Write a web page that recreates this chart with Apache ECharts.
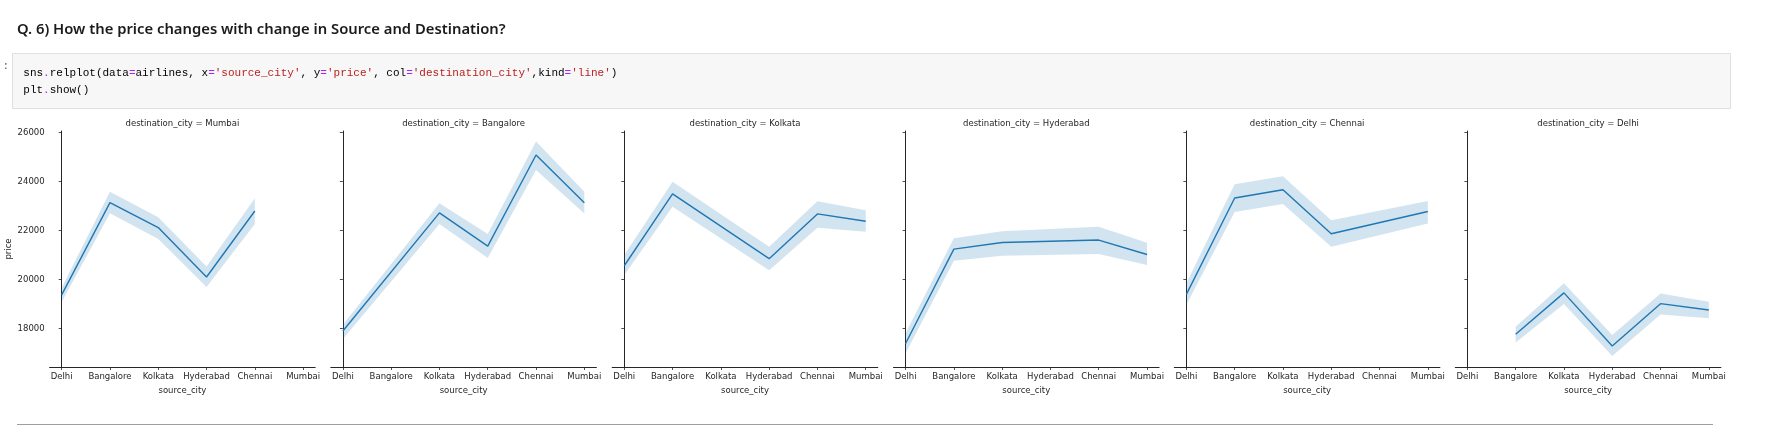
<!DOCTYPE html>
<html>
<head>
<meta charset="utf-8">
<script src="https://cdn.jsdelivr.net/npm/echarts@6/dist/echarts.min.js"></script>
<style>
html,body{margin:0;padding:0;background:#fff;}
#chart{width:1766px;height:447px;}
</style>
</head>
<body>
<div id="chart"></div>
<script>
// ---- data ----
const sourceCities = ['Delhi', 'Bangalore', 'Kolkata', 'Hyderabad', 'Chennai', 'Mumbai'];
const destinationCities = ['Mumbai', 'Bangalore', 'Kolkata', 'Hyderabad', 'Chennai', 'Delhi'];
const yTicks = [18000, 20000, 22000, 24000, 26000];

const meanToMumbai    = [19370, 23140, 22120, 20100, 22800, null];
const lowToMumbai     = [19080, 22710, 21650, 19690, 22270, null];
const highToMumbai    = [19660, 23590, 22540, 20530, 23320, null];

const meanToBangalore = [17890, null, 22720, 21360, 25090, 23140];
const lowToBangalore  = [17560, null, 22270, 20880, 24480, 22700];
const highToBangalore = [18150, null, 23120, 21860, 25640, 23590];

const meanToKolkata   = [20560, 23500, null, 20850, 22680, 22380];
const lowToKolkata    = [20180, 22970, null, 20380, 22110, 21950];
const highToKolkata   = [21000, 23990, null, 21340, 23200, 22830];

const meanToHyderabad = [17380, 21240, 21510, null, 21610, 21020];
const lowToHyderabad  = [16980, 20760, 20970, null, 21040, 20590];
const highToHyderabad = [17800, 21680, 21970, null, 22150, 21500];

const meanToChennai   = [19390, 23330, 23670, 21870, null, 22780];
const lowToChennai    = [18970, 22760, 23080, 21340, null, 22290];
const highToChennai   = [19840, 23890, 24220, 22420, null, 23210];

const meanToDelhi     = [null, 17760, 19450, 17280, 19010, 18750];
const lowToDelhi      = [null, 17420, 19000, 16870, 18570, 18410];
const highToDelhi     = [null, 18070, 19840, 17730, 19430, 19090];

const panelMeans = [meanToMumbai, meanToBangalore, meanToKolkata, meanToHyderabad, meanToChennai, meanToDelhi];
const panelLows  = [lowToMumbai, lowToBangalore, lowToKolkata, lowToHyderabad, lowToChennai, lowToDelhi];
const panelHighs = [highToMumbai, highToBangalore, highToKolkata, highToHyderabad, highToChennai, highToDelhi];

// ---- layout ----
const gridLefts = [49.6, 330.8, 612.2, 893.5, 1174.3, 1455.3];
const gridWidth = 265.6;
const gridTop = 131;
const gridHeight = 236;
const axisColor = '#262626';
const textColor = '#262626';
const mplFont = 'DejaVu Sans';
const lineColor = '#1f77b4';

const chart = echarts.init(document.getElementById('chart'), null, {renderer: 'canvas'});

const grids = [], xAxes = [], yAxes = [], series = [], graphics = [];
const catIdx = sourceCities.map((c, i) => i);

destinationCities.forEach((dest, k) => {
  grids.push({left: gridLefts[k], top: gridTop, width: gridWidth, height: gridHeight, containLabel: false});
  xAxes.push({
    type: 'value', gridIndex: k, min: -0.25, max: 5.25,
    name: 'source_city', nameLocation: 'middle', nameGap: 17,
    nameTextStyle: {fontFamily: mplFont, fontSize: 8.5, color: textColor},
    axisLine: {show: true, lineStyle: {color: axisColor, width: 1}},
    axisTick: {show: true, length: 3, customValues: catIdx, lineStyle: {color: axisColor, width: 0.8}},
    axisLabel: {show: true, customValues: catIdx, margin: 5, fontFamily: mplFont, fontSize: 8.5, color: textColor,
                formatter: v => sourceCities[Math.round(v)]},
    splitLine: {show: false}
  });
  yAxes.push({
    type: 'value', gridIndex: k, min: 16420, max: 26070,
    name: k === 0 ? 'price' : '', nameLocation: 'middle', nameGap: 33, nameRotate: 90,
    nameTextStyle: {fontFamily: mplFont, fontSize: 8.5, color: textColor},
    axisLine: {show: true, lineStyle: {color: axisColor, width: 1}},
    axisTick: {show: true, length: 3, customValues: yTicks, lineStyle: {color: axisColor, width: 0.8}},
    axisLabel: {show: k === 0, customValues: yTicks, margin: 5, fontFamily: mplFont, fontSize: 8.5, color: textColor,
                formatter: v => String(Math.round(v))},
    splitLine: {show: false}
  });

  const mean = panelMeans[k], lo = panelLows[k], hi = panelHighs[k];
  const firstIdx = mean.findIndex(v => v != null);
  series.push({
    type: 'custom', xAxisIndex: k, yAxisIndex: k, silent: true, z: 1,
    data: [[firstIdx, mean[firstIdx]]],
    renderItem: (params, api) => {
      const pts = [];
      for (let i = 0; i < hi.length; i++) if (hi[i] != null) pts.push(api.coord([i, hi[i]]));
      for (let i = lo.length - 1; i >= 0; i--) if (lo[i] != null) pts.push(api.coord([i, lo[i]]));
      return {type: 'polygon', shape: {points: pts}, style: {fill: 'rgba(31,119,180,0.2)', stroke: 'none'}};
    }
  });
  series.push({
    type: 'line', xAxisIndex: k, yAxisIndex: k, z: 3,
    data: mean.map((v, i) => v == null ? null : [i, v]).filter(d => d),
    showSymbol: false, symbol: 'none',
    lineStyle: {color: lineColor, width: 1.4},
    animation: false
  });
  graphics.push({
    type: 'text', x: gridLefts[k] + gridWidth / 2, y: 123.5,
    style: {text: 'destination_city = ' + dest, fill: textColor, font: '8.5px "DejaVu Sans"',
            textAlign: 'center', textVerticalAlign: 'middle'}
  });
});

// Notebook chrome: heading, code cell, separator
graphics.push({
  type: 'text', x: 17, y: 29.5,
  style: {text: 'Q. 6) How the price changes with change in Source and Destination?', fill: '#1b1b1b',
          font: '600 14.8px "Noto Sans"', textVerticalAlign: 'middle'}
});
graphics.push({
  type: 'rect', shape: {x: 12.5, y: 53.5, width: 1718, height: 55},
  style: {fill: '#f7f7f7', stroke: '#e0e0e0', lineWidth: 1}
});
graphics.push({
  type: 'text', x: 2.5, y: 66.5,
  style: {text: ':', fill: '#616161', font: '11px "Liberation Mono"', textVerticalAlign: 'middle'}
});
const P = '{p|', R = '{s|', K = '{k|', E = '}';
const codeLine1 = K + 'sns' + E + P + '.' + E + K + 'relplot(data' + E + P + '=' + E + K + 'airlines, x' + E + P + '=' + E +
  R + "'source_city'" + E + K + ', y' + E + P + '=' + E + R + "'price'" + E + K + ', col' + E + P + '=' + E +
  R + "'destination_city'" + E + K + ',kind' + E + P + '=' + E + R + "'line'" + E + K + ')' + E;
const codeLine2 = K + 'plt' + E + P + '.' + E + K + 'show()' + E;
const richStyles = {
  k: {fill: '#000000', font: '11px "Liberation Mono"'},
  p: {fill: '#aa22ff', font: '11px "Liberation Mono"'},
  s: {fill: '#ba2121', font: '11px "Liberation Mono"'}
};
graphics.push({type: 'text', x: 23.3, y: 73.3,
  style: {text: codeLine1, rich: richStyles, font: '11px "Liberation Mono"', textVerticalAlign: 'middle'}});
graphics.push({type: 'text', x: 23.3, y: 90,
  style: {text: codeLine2, rich: richStyles, font: '11px "Liberation Mono"', textVerticalAlign: 'middle'}});
graphics.push({
  type: 'line', shape: {x1: 17, y1: 424.5, x2: 1713, y2: 424.5},
  style: {stroke: '#9e9e9e', lineWidth: 1.2}
});

chart.setOption({
  animation: false,
  backgroundColor: '#ffffff',
  grid: grids,
  xAxis: xAxes,
  yAxis: yAxes,
  series: series,
  graphic: graphics
});
</script>
</body>
</html>
